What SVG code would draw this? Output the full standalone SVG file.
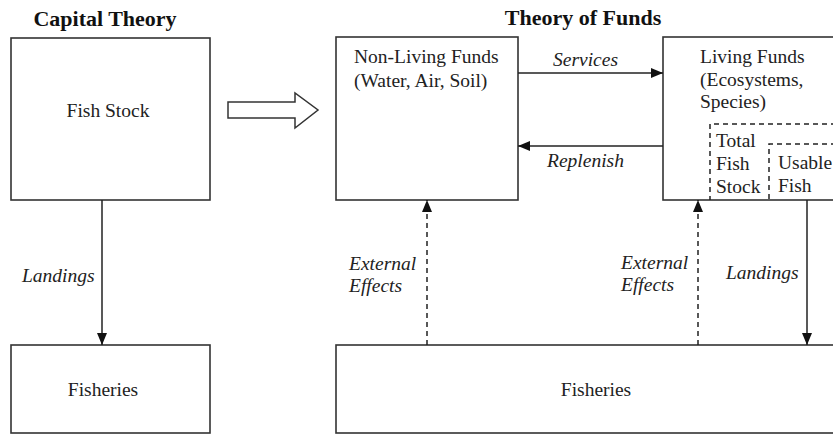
<svg xmlns="http://www.w3.org/2000/svg" width="833" height="435" viewBox="0 0 833 435">
<style>
.box{fill:#fff;stroke:#333;stroke-width:1.6}
.dash{fill:none;stroke:#222;stroke-width:1.5;stroke-dasharray:5,4}
.t{font-family:"Liberation Serif","Times New Roman",serif;font-size:19.5px;fill:#222}
.i{font-style:italic}
.h{font-family:"Liberation Serif","Times New Roman",serif;font-size:22px;font-weight:bold;fill:#111}
.ln{stroke:#222;stroke-width:1.5;fill:none}
.dl{stroke:#222;stroke-width:1.5;fill:none;stroke-dasharray:5,4}
</style>
<defs>
<marker id="ah" markerWidth="12" markerHeight="10" refX="12" refY="5" orient="auto" markerUnits="userSpaceOnUse">
<path d="M0,0 L12,5 L0,10 Z" fill="#111"/>
</marker>
</defs>
<rect width="833" height="435" fill="#fff"/>
<text class="h" x="105" y="26" text-anchor="middle">Capital Theory</text>
<text class="h" x="583" y="25" text-anchor="middle">Theory of Funds</text>
<g id="fish-stock">
<rect class="box" x="11" y="38" width="199" height="162"/>
<text class="t" x="108" y="117" text-anchor="middle">Fish Stock</text>
</g>
<g id="fisheries-left">
<rect class="box" x="11" y="345" width="199" height="88"/>
<text class="t" x="103" y="396" text-anchor="middle">Fisheries</text>
</g>
<g id="block-arrow">
<polygon points="228,102 295,102 295,93 318,110 295,128 295,118 228,118" fill="#fff" stroke="#333" stroke-width="1.5"/>
</g>
<g id="non-living">
<rect class="box" x="336" y="37" width="182" height="163"/>
<text class="t" x="354" y="63">Non-Living Funds</text>
<text class="t" x="354" y="87">(Water, Air, Soil)</text>
</g>
<g id="living">
<rect class="box" x="663" y="37" width="190" height="163"/>
<text class="t" x="700" y="63">Living Funds</text>
<text class="t" x="700" y="86">(Ecosystems,</text>
<text class="t" x="700" y="108">Species)</text>
</g>
<g id="total-fish">
<polyline class="dash" points="845,124 710,124 710,200"/>
<text class="t" x="716" y="147">Total</text>
<text class="t" x="716" y="170">Fish</text>
<text class="t" x="716" y="193">Stock</text>
</g>
<g id="usable-fish">
<polyline class="dash" points="845,144 769,144 769,200"/>
<text class="t" x="778" y="169">Usable</text>
<text class="t" x="778" y="192">Fish</text>
</g>
<g id="fisheries-right">
<rect class="box" x="336" y="345" width="520" height="88"/>
<text class="t" x="596" y="396" text-anchor="middle">Fisheries</text>
</g>
<g id="connectors">
<line class="ln" x1="102" y1="200" x2="102" y2="345" marker-end="url(#ah)"/>
<text class="t i" x="22" y="282">Landings</text>
<line class="ln" x1="518" y1="73" x2="663" y2="73" marker-end="url(#ah)"/>
<text class="t i" x="553" y="66">Services</text>
<line class="ln" x1="663" y1="146" x2="518" y2="146" marker-end="url(#ah)"/>
<text class="t i" x="547" y="167">Replenish</text>
<line class="dl" x1="427" y1="345" x2="427" y2="200" marker-end="url(#ah)"/>
<text class="t i" x="349" y="270">External</text>
<text class="t i" x="349" y="292">Effects</text>
<line class="dl" x1="698" y1="345" x2="698" y2="200" marker-end="url(#ah)"/>
<text class="t i" x="621" y="269">External</text>
<text class="t i" x="621" y="291">Effects</text>
<line class="ln" x1="807" y1="200" x2="807" y2="345" marker-end="url(#ah)"/>
<text class="t i" x="726" y="279">Landings</text>
</g>
</svg>
